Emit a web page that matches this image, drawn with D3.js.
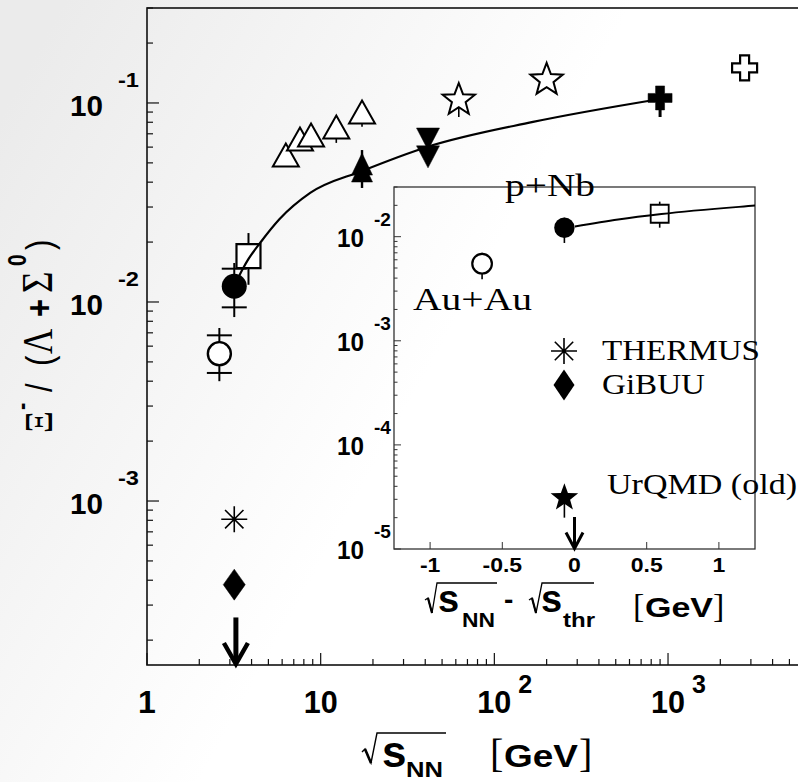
<!DOCTYPE html>
<html>
<head>
<meta charset="utf-8">
<script src="https://cdn.jsdelivr.net/npm/d3@7"></script>
<style>
  html, body { margin: 0; padding: 0; background: #fff; }
  svg { display: block; }
</style>
</head>
<body>
<script>
// ---------------- data: Xi-/(Lambda+Sigma0) versus sqrt(s_NN) [GeV] ----------------
const auAu        = [{ s: 2.61, r: 0.0055, statLo: 0.0044, statHi: 0.0068, sysLo: 0.0040, sysHi: 0.0074 }];
const pNb         = [{ s: 3.18, r: 0.0120, statLo: 0.0094, statHi: 0.0147, sysLo: 0.0084, sysHi: 0.0157 }];
const openSquares = [{ s: 3.84, r: 0.0170, lo: 0.0122, hi: 0.0222 }];
const openTriangles = [
  { s: 6.3,  r: 0.0548, lo: 0.0480 },
  { s: 7.6,  r: 0.0659, lo: 0.0590 },
  { s: 8.8,  r: 0.0690, lo: 0.0620 },
  { s: 12.3, r: 0.0757, lo: 0.0630 },
  { s: 17.3, r: 0.0900, lo: 0.0760 }
];
const filledTriangles = [{ s: 17.3, r: 0.0493 }, { s: 17.3, r: 0.0455 }];
const filledTriErr    = [{ s: 17.3, lo: 0.0374, hi: 0.0580 }];
const filledInvTriangles = [{ s: 41.5, r: 0.0659 }, { s: 41.5, r: 0.0536 }];
const openStars   = [{ s: 62.4, r: 0.1035, lo: 0.0850 }, { s: 200, r: 0.1306, lo: 0.1306 }];
const filledCross = [{ s: 900, r: 0.106, lo: 0.085, hi: 0.119 }];
const openCross   = [{ s: 2760, r: 0.150 }];
const thermus     = [{ s: 3.18, r: 8.1e-4 }];
const gibuu       = [{ s: 3.18, r: 3.8e-4 }];
const urqmdLimit  = [{ s: 3.25, r: 2.6e-4 }];
const fitCurve = [
  [3.25, 0.0125], [3.55, 0.0146], [3.85, 0.0165], [4.5, 0.0199], [5.8, 0.0261],
  [8.7, 0.0353], [17.3, 0.0455], [41, 0.0601], [167, 0.0803], [900, 0.1047]
];

// inset: ratio versus sqrt(s_NN) - sqrt(s_thr) [GeV]
const sThreshold  = 3.248;
const insetAuAu   = [{ d: -0.64, r: 0.0055, lo: 0.0039, hi: 0.0070 }];
const insetPNb    = [{ d: -0.07, r: 0.0122, lo: 0.0087, hi: 0.0152 }];
const insetSquare = [{ d: 0.59,  r: 0.0166, lo: 0.0122, hi: 0.0217 }];
const insetUrqmd  = [{ d: -0.07, r: 3.1e-5, lo: 2.0e-5 }];
const insetArrow  = [{ d: 0 }];

// tick labels
const mainXTickLabels = [
  { v: 1, base: "1", exp: "" }, { v: 10, base: "10", exp: "" },
  { v: 100, base: "10", exp: "2" }, { v: 1000, base: "10", exp: "3" }
];
const mainYTickLabels = [
  { v: 1e-3, base: "10", exp: "-3" }, { v: 1e-2, base: "10", exp: "-2" }, { v: 1e-1, base: "10", exp: "-1" }
];
const insetXTickValues = [-1, -0.5, 0, 0.5, 1];
const insetXTickLabels = ["-1", "-0.5", "0", "0.5", "1"];
const insetYTickLabels = [
  { v: 1e-5, base: "10", exp: "-5" }, { v: 1e-4, base: "10", exp: "-4" },
  { v: 1e-3, base: "10", exp: "-3" }, { v: 1e-2, base: "10", exp: "-2" }
];

// ---------------- setup ----------------
const W = 798, H = 782;
const SANS = "'Liberation Sans', Arial, Helvetica, sans-serif";
const SERIF = "'Liberation Serif', 'Times New Roman', serif";

const svg = d3.select("body").append("svg")
  .attr("width", W).attr("height", H)
  .attr("font-family", SANS);

const defs = svg.append("defs");
const grad = defs.append("linearGradient").attr("id", "bg")
  .attr("x1", "0").attr("y1", "0.15").attr("x2", "0.55").attr("y2", "0.45");
grad.append("stop").attr("offset", "0").attr("stop-color", "#ebebeb");
grad.append("stop").attr("offset", "1").attr("stop-color", "#ffffff");
svg.append("rect").attr("width", W).attr("height", H).attr("fill", "url(#bg)");

const x = d3.scaleLog().domain([1, 1e4]).range([147, 841.7]);
const y = d3.scaleLog().domain([1.5e-4, 0.3]).range([665, 8]);

const xi = d3.scaleLinear().domain([-1.25, 1.25]).range([394, 755]);
const yi = d3.scaleLog().domain([1e-5, 0.03]).range([549, 187]);

const isPow10 = t => Math.abs(Math.log10(t) - Math.round(Math.log10(t))) < 1e-9;

function txt(g, px, py, s, o = {}) {
  const t = g.append("text")
    .attr("transform", `translate(${px},${py})` + (o.sx ? ` scale(${o.sx},1)` : ""))
    .attr("font-size", o.size || 20)
    .attr("font-weight", o.weight || "bold")
    .attr("font-family", o.family || SANS)
    .attr("text-anchor", o.anchor || "start")
    .attr("fill", "#000")
    .text(s);
  if (o.len) t.attr("textLength", o.len).attr("lengthAdjust", "spacingAndGlyphs");
  return t;
}

// marker shapes
function starPath(R, r) {
  const p = [];
  for (let i = 0; i < 10; i++) {
    const a = -Math.PI / 2 + i * Math.PI / 5, rr = i % 2 ? r : R;
    p.push([rr * Math.cos(a), rr * Math.sin(a)]);
  }
  return "M" + p.map(d => d[0].toFixed(2) + "," + d[1].toFixed(2)).join("L") + "Z";
}
function crossPath(s, t) {
  const a = s / 2, b = t / 2;
  return `M${-b},${-a}H${b}V${-b}H${a}V${b}H${b}V${a}H${-b}V${b}H${-a}V${-b}H${-b}Z`;
}
function triPath(w, h, down) {
  const k = down ? -1 : 1;
  return `M0,${-k * h / 2}L${w / 2},${k * h / 2}L${-w / 2},${k * h / 2}Z`;
}
function diamondPath(w, h) { return `M0,${-h / 2}L${w / 2},0L0,${h / 2}L${-w / 2},0Z`; }
function asteriskPath(s) {
  const a = s / 2, d = a * Math.SQRT1_2;
  return `M0,${-a}V${a}M${-a},0H${a}M${-d},${-d}L${d},${d}M${-d},${d}L${d},${-d}`;
}
function squarePath(s) { const a = s / 2; return `M${-a},${-a}H${a}V${a}H${-a}Z`; }

// ---------------- main frame and axes ----------------
const main = svg.append("g");
main.append("rect")
  .attr("x", x(1)).attr("y", y(0.3))
  .attr("width", x(1e4) - x(1)).attr("height", y(1.5e-4) - y(0.3))
  .attr("fill", "none").attr("stroke", "#111").attr("stroke-width", 1.6);

main.append("g").selectAll("line").data(y.ticks()).join("line")
  .attr("x1", x(1)).attr("x2", d => x(1) + (isPow10(d) ? 12 : 6))
  .attr("y1", d => y(d)).attr("y2", d => y(d))
  .attr("stroke", "#111").attr("stroke-width", 1.2);

main.append("g").selectAll("line").data(x.ticks()).join("line")
  .attr("y1", y(1.5e-4)).attr("y2", d => y(1.5e-4) - (isPow10(d) ? 12 : 6))
  .attr("x1", d => x(d)).attr("x2", d => x(d))
  .attr("stroke", "#111").attr("stroke-width", 1.2);

mainYTickLabels.forEach(t => {
  txt(main, 70, y(t.v) + 13, t.base, { size: 30, len: 33 });
  txt(main, 118, y(t.v) - 16, t.exp, { size: 21, len: 21 });
});
mainXTickLabels.forEach(t => {
  if (t.exp) {
    txt(main, x(t.v) - 17, 713, t.base, { size: 32, len: 34 });
    txt(main, x(t.v) + 24, 693, t.exp, { size: 25 });
  } else if (t.base.length > 1) {
    txt(main, x(t.v) - 17, 713, t.base, { size: 32, len: 34 });
  } else {
    txt(main, x(t.v), 713, t.base, { size: 32, anchor: "middle" });
  }
});

// x-axis title: sqrt(s_NN) [GeV]
main.append("path").attr("d", "M362,752 L365,749 L371,763 L377,733 H446")
  .attr("fill", "none").attr("stroke", "#000").attr("stroke-width", 1.4);
main.append("path").attr("d", "M365,749 L371,763").attr("stroke", "#000").attr("stroke-width", 2.6);
txt(main, 382, 767, "s", { size: 44 });
txt(main, 406, 777, "NN", { size: 22, len: 37 });
txt(main, 490, 767, "[", { size: 40, family: SERIF, weight: "normal" });
txt(main, 504, 767, "GeV", { size: 32, len: 74 });
txt(main, 579, 767, "]", { size: 40, family: SERIF, weight: "normal" });

// y-axis title: Xi- / (Lambda + Sigma0), reading upwards
const yt = main.append("g").attr("transform", "translate(52,0) scale(1.2,1) rotate(-90)");
function ytxt(u, v, s, size, family, weight) {
  yt.append("text").attr("x", u).attr("y", v).attr("font-size", size)
    .attr("font-family", family).attr("font-weight", weight).attr("fill", "#000").text(s);
}
ytxt(-433, 0, "Ξ", 34, SERIF, "normal");
ytxt(-410, -18, "-", 22, SANS, "bold");
ytxt(-392, 0, "/", 31, SANS, "normal");
ytxt(-366, 0, "(", 31, SANS, "normal");
ytxt(-354, 0, "Λ", 35, SERIF, "normal");
ytxt(-317, 0, "+", 31, SANS, "bold");
ytxt(-293, 0, "Σ", 37, SERIF, "normal");
ytxt(-266, -22, "0", 21, SANS, "bold");
ytxt(-250, 0, ")", 31, SANS, "normal");

// ---------------- main data ----------------
const data = main.append("g");
const capW = 25;

function errBars(arr, sx, sy, loKey, hiKey, width) {
  data.append("g").selectAll("line").data(arr).join("line")
    .attr("x1", d => sx(d)).attr("x2", d => sx(d))
    .attr("y1", d => sy(d[loKey])).attr("y2", d => sy(d[hiKey]))
    .attr("stroke", "#000").attr("stroke-width", width);
}
function caps(arr, key) {
  data.append("g").selectAll("line").data(arr).join("line")
    .attr("x1", d => x(d.s) - capW / 2).attr("x2", d => x(d.s) + capW / 2)
    .attr("y1", d => y(d[key])).attr("y2", d => y(d[key]))
    .attr("stroke", "#000").attr("stroke-width", 2);
}
function markers(arr, pathStr, fill, strokeW, sx, sy) {
  data.append("g").selectAll("path").data(arr).join("path")
    .attr("d", pathStr)
    .attr("transform", d => `translate(${sx(d)},${sy(d)})`)
    .attr("fill", fill).attr("stroke", "#000").attr("stroke-width", strokeW)
    .attr("stroke-linejoin", "miter");
}
const mx = d => x(d.s), my = d => y(d.r);

// Au+Au open circle
errBars(auAu, mx, y, "sysLo", "sysHi", 2);
caps(auAu, "statLo"); caps(auAu, "statHi");
data.append("g").selectAll("circle").data(auAu).join("circle")
  .attr("cx", mx).attr("cy", my).attr("r", 11.5)
  .attr("fill", "#fff").attr("stroke", "#000").attr("stroke-width", 2.4);

// open square
errBars(openSquares, mx, y, "lo", "hi", 2);
markers(openSquares, squarePath(24), "#fff", 2.2, mx, my);

// p+Nb filled circle
errBars(pNb, mx, y, "sysLo", "sysHi", 2);
caps(pNb, "statLo"); caps(pNb, "statHi");
data.append("g").selectAll("circle").data(pNb).join("circle")
  .attr("cx", mx).attr("cy", my).attr("r", 12.5).attr("fill", "#000");

// open triangles
data.append("g").selectAll("line").data(openTriangles).join("line")
  .attr("x1", mx).attr("x2", mx).attr("y1", d => y(d.lo)).attr("y2", my)
  .attr("stroke", "#000").attr("stroke-width", 1.6);
markers(openTriangles, triPath(26, 23, false), "#fff", 2, mx, my);

// filled triangles
errBars(filledTriErr, mx, y, "lo", "hi", 2.4);
markers(filledTriangles, triPath(21, 22, false), "#000", 0.5, mx, my);

// filled inverted triangles
markers(filledInvTriangles, triPath(23, 22, true), "#000", 0.5, mx, my);

// open stars
data.append("g").selectAll("line").data(openStars).join("line")
  .attr("x1", mx).attr("x2", mx).attr("y1", d => y(d.lo)).attr("y2", my)
  .attr("stroke", "#000").attr("stroke-width", 1.6);
markers(openStars, starPath(17, 7.2), "#fff", 2, mx, my);

// filled cross
errBars(filledCross, mx, y, "lo", "hi", 3);
markers(filledCross, crossPath(24, 9), "#000", 0.5, mx, my);

// open cross
markers(openCross, crossPath(25, 9), "#fff", 2.2, mx, my);

// models at the p+Nb energy
data.append("g").selectAll("path").data(thermus).join("path")
  .attr("d", asteriskPath(26)).attr("transform", d => `translate(${mx(d)},${my(d)})`)
  .attr("fill", "none").attr("stroke", "#000").attr("stroke-width", 1.6);
markers(gibuu, diamondPath(22, 31), "#000", 0.5, mx, my);

// UrQMD upper-limit arrow
urqmdLimit.forEach(d => {
  const ax = x(d.s), top = y(d.r), bot = y(1.5e-4) - 1;
  data.append("line").attr("x1", ax).attr("x2", ax).attr("y1", top).attr("y2", bot - 4)
    .attr("stroke", "#000").attr("stroke-width", 5);
  data.append("path").attr("d", `M${ax - 12},${bot - 21} L${ax},${bot} L${ax + 12},${bot - 21}`)
    .attr("fill", "none").attr("stroke", "#000").attr("stroke-width", 4.5);
});

// fit curve
const fitLine = d3.line().x(d => x(d[0])).y(d => y(d[1])).curve(d3.curveMonotoneX);
data.append("path").datum(fitCurve).attr("d", fitLine)
  .attr("fill", "none").attr("stroke", "#000").attr("stroke-width", 2.2);

// ---------------- inset ----------------
const inset = svg.append("g");
defs.append("clipPath").attr("id", "insetClip").append("rect")
  .attr("x", xi(-1.25)).attr("y", yi(0.03))
  .attr("width", xi(1.25) - xi(-1.25)).attr("height", yi(1e-5) - yi(0.03));

inset.append("rect")
  .attr("x", xi(-1.25)).attr("y", yi(0.03))
  .attr("width", xi(1.25) - xi(-1.25)).attr("height", yi(1e-5) - yi(0.03))
  .attr("fill", "none").attr("stroke", "#333").attr("stroke-width", 1.3);

inset.append("g").selectAll("line").data(yi.ticks()).join("line")
  .attr("x1", xi(-1.25)).attr("x2", d => xi(-1.25) + (isPow10(d) ? 7 : 3.5))
  .attr("y1", d => yi(d)).attr("y2", d => yi(d))
  .attr("stroke", "#333").attr("stroke-width", 1);

inset.append("g").selectAll("line").data(insetXTickValues).join("line")
  .attr("x1", d => xi(d)).attr("x2", d => xi(d))
  .attr("y1", yi(1e-5)).attr("y2", yi(1e-5) - 7)
  .attr("stroke", "#333").attr("stroke-width", 1);

insetXTickValues.forEach((v, i) => {
  txt(inset, xi(v), 572, insetXTickLabels[i], { size: 20, anchor: "middle", sx: 1.15 });
});
insetYTickLabels.forEach(t => {
  txt(inset, 337, yi(t.v) + 10, t.base, { size: 25, len: 27 });
  txt(inset, 374, yi(t.v) - 11, t.exp, { size: 19 });
});

// inset x title: sqrt(s_NN) - sqrt(s_thr) [GeV]
inset.append("path").attr("d", "M425,600 L428,598 L432,613 L437,583 H497")
  .attr("fill", "none").attr("stroke", "#000").attr("stroke-width", 1.3);
inset.append("path").attr("d", "M428,598 L432,613").attr("stroke", "#000").attr("stroke-width", 2.2);
txt(inset, 438, 612, "s", { size: 38 });
txt(inset, 462, 627, "NN", { size: 20, len: 33 });
txt(inset, 504, 609, "-", { size: 28 });
inset.append("path").attr("d", "M529,600 L532,598 L536,613 L542,583 H594")
  .attr("fill", "none").attr("stroke", "#000").attr("stroke-width", 1.3);
inset.append("path").attr("d", "M532,598 L536,613").attr("stroke", "#000").attr("stroke-width", 2.2);
txt(inset, 541, 612, "s", { size: 38 });
txt(inset, 563, 627, "thr", { size: 21, len: 32 });
txt(inset, 633, 617, "[", { size: 34, family: SERIF, weight: "normal" });
txt(inset, 645, 617, "GeV", { size: 28, len: 68 });
txt(inset, 713, 617, "]", { size: 34, family: SERIF, weight: "normal" });

// inset data
const ix = d => xi(d.d), iy = d => yi(d.r);
const idata = inset.append("g");
function iErr(arr) {
  idata.append("g").selectAll("line").data(arr).join("line")
    .attr("x1", ix).attr("x2", ix).attr("y1", d => yi(d.lo)).attr("y2", d => yi(d.hi))
    .attr("stroke", "#000").attr("stroke-width", 1.6);
}
iErr(insetAuAu);
idata.append("g").selectAll("circle").data(insetAuAu).join("circle")
  .attr("cx", ix).attr("cy", iy).attr("r", 9.8)
  .attr("fill", "#fff").attr("stroke", "#000").attr("stroke-width", 2.2);
iErr(insetPNb);
idata.append("g").selectAll("circle").data(insetPNb).join("circle")
  .attr("cx", ix).attr("cy", iy).attr("r", 10.2).attr("fill", "#000");
iErr(insetSquare);
idata.append("g").selectAll("path").data(insetSquare).join("path")
  .attr("d", squarePath(18)).attr("transform", d => `translate(${ix(d)},${iy(d)})`)
  .attr("fill", "#fff").attr("stroke", "#000").attr("stroke-width", 1.8);

idata.append("g").selectAll("line").data(insetUrqmd).join("line")
  .attr("x1", ix).attr("x2", ix).attr("y1", d => yi(d.lo)).attr("y2", iy)
  .attr("stroke", "#000").attr("stroke-width", 1.6);
idata.append("g").selectAll("path").data(insetUrqmd).join("path")
  .attr("d", starPath(14.5, 6)).attr("transform", d => `translate(${ix(d)},${iy(d)})`)
  .attr("fill", "#000");

insetArrow.forEach(d => {
  const ax = xi(d.d), bot = yi(1e-5) - 0.5;
  idata.append("line").attr("x1", ax).attr("x2", ax).attr("y1", 517).attr("y2", bot - 3)
    .attr("stroke", "#000").attr("stroke-width", 3);
  idata.append("path").attr("d", `M${ax - 8.5},${bot - 16} L${ax},${bot} L${ax + 8.5},${bot - 16}`)
    .attr("fill", "none").attr("stroke", "#000").attr("stroke-width", 3);
});

// same fit, shifted to the threshold
const insetFit = fitCurve.map(p => [p[0] - sThreshold, p[1]]).filter(p => p[0] >= -0.01);
const insetLine = d3.line().x(d => xi(d[0])).y(d => yi(d[1])).curve(d3.curveMonotoneX);
idata.append("path").datum(insetFit).attr("d", insetLine)
  .attr("clip-path", "url(#insetClip)")
  .attr("fill", "none").attr("stroke", "#000").attr("stroke-width", 2);

// inset annotations and legend
txt(inset, 505, 196, "p+Nb", { size: 31, family: SERIF, weight: "normal", len: 90 });
txt(inset, 413, 310, "Au+Au", { size: 31, family: SERIF, weight: "normal", len: 119 });
inset.append("path").attr("d", asteriskPath(26)).attr("transform", "translate(564,351)")
  .attr("fill", "none").attr("stroke", "#000").attr("stroke-width", 1.6);
txt(inset, 602, 360, "THERMUS", { size: 29, family: SERIF, weight: "normal", len: 158 });
inset.append("path").attr("d", diamondPath(21, 31)).attr("transform", "translate(564,385)")
  .attr("fill", "#000");
txt(inset, 602, 394, "GiBUU", { size: 29, family: SERIF, weight: "normal", len: 103 });
txt(inset, 607, 494, "UrQMD (old)", { size: 29, family: SERIF, weight: "normal", len: 190 });
</script>
</body>
</html>
